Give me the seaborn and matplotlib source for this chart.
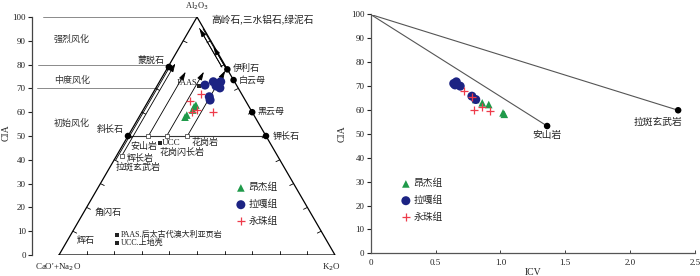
import matplotlib
matplotlib.use("Agg")
import matplotlib.pyplot as plt
import seaborn as sns
import numpy as np

sns.set_style("ticks")
plt.rcParams["font.family"] = ["Liberation Serif", "Noto Sans CJK SC"]
plt.rcParams["axes.unicode_minus"] = False

# ---- A-CN-K diagram: CIA (=Al2O3 share, %) and K2O share (%) per sample
angjie_cia = [63.0, 62.3, 60.9, 58.8, 57.9]
angjie_k = [18.1, 17.8, 18.0, 16.9, 16.7]
laga_cia = [71.4, 72.8, 72.8, 71.0, 70.2, 66.5, 65.1]
laga_k = [17.2, 19.5, 22.2, 21.4, 23.2, 21.2, 22.2]
yongzhu_cia = [64.9, 67.8, 60.9, 60.2, 60.2]
yongzhu_k = [15.0, 17.5, 19.5, 18.0, 25.6]

minerals = ["斜长石", "钾长石", "蒙脱石", "伊利石", "白云母", "黑云母"]
mineral_cia = [50, 50, 79, 78, 73.5, 60]
mineral_k = [0, 50, 0.3, 22, 26.5, 40]

rocks = ["安山岩", "花岗闪长岩", "花岗岩", "辉长岩"]
rock_cia = [50, 50, 50, 41.6]
rock_k = [7.4, 14.0, 21.5, 1.9]
ref_names = ["PAAS", "UCC"]
ref_cia_t = [71.0, 47.0]
ref_k_t = [15.3, 13.1]

# weathering trends (constant K2O) and K-loss trends (constant CaO+Na2O)
trend_k = [0.6, 1.9, 7.4, 14.0, 21.5]
trend_start = [40.0, 41.6, 50, 50, 50]
trend_end = [79.0, 80.5, 77.0, 77.0, 77.5]
trend_arrow = [False, True, True, True, True]
kloss_cn = [0.3, 1.5]
kloss_start = [78.0, 79.0]
kloss_end = [95.0, 95.2]
kloss_tip = [87.5, 95.2]

guide_levels = [100, 80, 70]
guide_start = [-0.058, -0.076, -0.08]
zone_labels = ["强烈风化", "中度风化", "初始风化"]
zone_cia = [90.5, 73.5, 55.5]

# ---- ICV-CIA diagram
angjie_icv = [0.81, 0.86, 0.91, 1.02, 1.03]
angjie_cia2 = [64.4, 63.0, 62.3, 58.8, 58.2]
laga_icv = [0.64, 0.65, 0.66, 0.69, 0.78, 0.81]
laga_cia2 = [71.1, 70.5, 71.8, 70.0, 65.8, 64.4]
yongzhu_icv = [0.72, 0.78, 0.80, 0.86, 0.92]
yongzhu_cia2 = [68.0, 65.5, 60.2, 61.3, 59.7]
ref_rocks = ["安山岩", "拉斑玄武岩"]
ref_icv = [1.36, 2.37]
ref_cia = [53.3, 59.9]

green = "#1f9a4a"
navy = "#1c2383"
red = "#ee3b4a"
groups = ["昂杰组", "拉嘎组", "永珠组"]


def tern(cia, k):
    cia = np.asarray(cia, float)
    k = np.asarray(k, float)
    return k / 100 + cia / 200, cia


def tx(px):
    return (px - 59) / 276


def ty(py):
    return (255 - py) / 2.38


fig = plt.figure(figsize=(7, 2.76), dpi=100)
ax1 = fig.add_axes([32 / 700, 21 / 276, 313 / 700, 238 / 276])
ax2 = fig.add_axes([370.7 / 700, 22.7 / 276, 324.3 / 700, 238.8 / 276])

# ---------------- left: A-CN-K ternary ----------------
ax1.set_xlim(tx(32), tx(345))
ax1.set_ylim(0, 100)
for s in ["top", "right", "bottom"]:
    ax1.spines[s].set_visible(False)
ax1.spines["left"].set_color("#444444")
ax1.spines["left"].set_linewidth(0.9)
ax1.set_yticks(range(0, 101, 10))
ax1.set_xticks([])
ax1.tick_params(axis="y", direction="out", length=3, width=0.8, pad=1.5,
                labelsize=6.5, colors="#222222")
fig.text(6 / 700, 1 - 133 / 276, "CIA", rotation=90, fontsize=7, ha="center", va="center")

lw_t = 0.9
ax1.plot([0, 0.5, 1, 0], [0, 100, 0, 0], color="black", lw=lw_t, zorder=2)
ax1.plot(*tern([50, 50], [0, 50]), color="#333333", lw=0.8, zorder=2)
for lvl, x0 in zip(guide_levels, guide_start):
    ax1.plot([x0, lvl / 200], [lvl, lvl], color="#777777", lw=0.6, zorder=1)
for lab, c in zip(zone_labels, zone_cia):
    ax1.text(tx(72), c, lab, fontsize=6.5, ha="center", va="center", color="#333333")

# edge ticks
for f in np.arange(0.1, 1.0, 0.1):
    ax1.plot([f, f], [0, 1.6], color="black", lw=0.6)
    ax1.plot([f / 2, f / 2 + 0.014], [f * 100, f * 100 - 0.8], color="black", lw=0.6)
    ax1.plot([1 - f / 2, 1 - f / 2 - 0.014], [f * 100, f * 100 - 0.8], color="black", lw=0.6)

arrow_kw = dict(arrowstyle="-|>,head_length=0.5,head_width=0.15", color="black",
                lw=0.6, shrinkA=0, shrinkB=0)
for k, a0, a1, arr in zip(trend_k, trend_start, trend_end, trend_arrow):
    xs, ys = tern([a0, a1], [k, k])
    if arr:
        ax1.annotate("", xy=(xs[1], ys[1]), xytext=(xs[0], ys[0]), arrowprops=arrow_kw)
    else:
        ax1.plot(xs, ys, color="black", lw=0.6)
for cn, a0, a1, tip in zip(kloss_cn, kloss_start, kloss_end, kloss_tip):
    xs, ys = tern([a0, a1], [100 - a0 - cn, 100 - a1 - cn])
    ax1.plot(xs, ys, color="black", lw=0.6)
    tx0, ty0 = tern([a0, tip], [100 - a0 - cn, 100 - tip - cn])
    ax1.annotate("", xy=(tx0[1], ty0[1]), xytext=(tx0[0], ty0[0]), arrowprops=arrow_kw)

mx, my = tern(mineral_cia, mineral_k)
sns.scatterplot(x=mx, y=my, color="black", s=22, edgecolor="none", ax=ax1, zorder=5)
offs = {"斜长石": (-3, 5, "right"), "钾长石": (5, 0, "left"), "蒙脱石": (-3, 5, "right"),
        "伊利石": (4, 1, "left"), "白云母": (4, 0, "left"), "黑云母": (4, 0, "left")}
for name, x, y in zip(minerals, mx, my):
    dx, dy, ha = offs[name]
    ax1.annotate(name, (x, y), xytext=(dx, dy), textcoords="offset points",
                 fontsize=6.5, ha=ha, va="center", color="#222222")

rx, ry = tern(rock_cia, rock_k)
sns.scatterplot(x=rx, y=ry, marker="s", s=10, facecolor="white", edgecolor="#333333",
                linewidth=0.5, ax=ax1, zorder=4)
fx, fy = tern(ref_cia_t, ref_k_t)
sns.scatterplot(x=fx, y=fy, marker="s", s=7, color="#222222", edgecolor="none",
                ax=ax1, zorder=4)

txt = dict(fontsize=6.5, va="center", color="#222222")
ax1.text(tx(130), ty(147), "安山岩", ha="left", **txt)
ax1.text(tx(162), ty(143), "UCC", ha="left", **txt)
ax1.text(tx(192), ty(142), "花岗岩", ha="left", **txt)
ax1.text(tx(160), ty(152.5), "花岗闪长岩", ha="left", **txt)
ax1.text(tx(127), ty(158), "辉长岩", ha="left", **txt)
ax1.text(tx(116), ty(167), "拉斑玄武岩", ha="left", **txt)
ax1.text(tx(197.5), ty(83), "PAAS", ha="right", fontsize=6, va="center", color="#222222")
ax1.text(tx(108), ty(213), "角闪石", ha="center", **txt)
ax1.text(tx(86), ty(240), "辉石", ha="center", **txt)
ax1.text(tx(211), ty(20.5), "高岭石,三水铝石,绿泥石", ha="left", fontsize=7,
         va="center", color="#222222", clip_on=False)
ax1.text(0.5, ty(6), "Al$_2$O$_3$", ha="center", fontsize=6, va="center", clip_on=False)
ax1.text(tx(58), ty(267), "CaO'+Na$_2$O", ha="center", fontsize=6.5, va="center", clip_on=False)
ax1.text(tx(331), ty(267), "K$_2$O", ha="center", fontsize=6.5, va="center", clip_on=False)
sns.scatterplot(x=[tx(117), tx(117)], y=[ty(235), ty(243)], marker="s", s=5,
                color="#222222", edgecolor="none", ax=ax1)
ax1.text(tx(121), ty(235), "PAAS.后太古代澳大利亚页岩", ha="left", fontsize=5.8,
         va="center", color="#222222")
ax1.text(tx(121), ty(243), "UCC.上地壳", ha="left", fontsize=5.8, va="center",
         color="#222222")

gx, gy = tern(angjie_cia, angjie_k)
bx, by = tern(laga_cia, laga_k)
px_, py_ = tern(yongzhu_cia, yongzhu_k)
sns.scatterplot(x=gx, y=gy, marker="^", s=30, color=green, edgecolor="none",
                ax=ax1, label=groups[0], zorder=6)
sns.scatterplot(x=bx, y=by, marker="o", s=42, color=navy, edgecolor="none",
                ax=ax1, label=groups[1], zorder=6)
sns.scatterplot(x=px_, y=py_, marker="+", s=40, color=red, linewidth=0.9,
                ax=ax1, label=groups[2], zorder=7)
ax1.legend(loc="upper left", bbox_to_anchor=((236 - 32) / 313, (255 - 183) / 238),
           frameon=False, fontsize=7, borderpad=0, borderaxespad=0,
           labelspacing=0.75, handletextpad=0.3, handlelength=1.0)

# ---------------- right: ICV-CIA ----------------
ax2.set_xlim(0, 2.5)
ax2.set_ylim(0, 100)
for s in ["top", "right"]:
    ax2.spines[s].set_visible(False)
for s in ["left", "bottom"]:
    ax2.spines[s].set_color("#555555")
    ax2.spines[s].set_linewidth(0.9)
ax2.set_xticks([0, 0.5, 1.0, 1.5, 2.0, 2.5])
ax2.set_xticklabels(["0", "0.5", "1.0", "1.5", "2.0", "2.5"])
ax2.set_yticks(range(0, 101, 10))
ax2.tick_params(axis="y", direction="out", length=3, width=0.8, pad=1.5,
                labelsize=6.5, colors="#222222")
ax2.tick_params(axis="x", direction="in", length=2, width=0.6, pad=4,
                labelsize=6.5, colors="#222222")
ax2.set_ylabel("CIA", fontsize=7, labelpad=3)
ax2.set_xlabel("ICV", fontsize=7, labelpad=1)

for icv, cia in zip(ref_icv, ref_cia):
    sns.lineplot(x=[0, icv], y=[100, cia], color="#555555", lw=0.8, ax=ax2)
sns.scatterplot(x=ref_icv, y=ref_cia, color="black", s=22, edgecolor="none", ax=ax2, zorder=5)
ax2.annotate(ref_rocks[0], (ref_icv[0], ref_cia[0]), xytext=(0, -7),
             textcoords="offset points", ha="center", va="center", fontsize=7, color="#222222")
ax2.annotate(ref_rocks[1], (ref_icv[1], ref_cia[1]), xytext=(-14.5, -9),
             textcoords="offset points", ha="center", va="center", fontsize=7, color="#222222")

sns.scatterplot(x=angjie_icv, y=angjie_cia2, marker="^", s=30, color=green, edgecolor="none",
                ax=ax2, label=groups[0], zorder=6)
sns.scatterplot(x=laga_icv, y=laga_cia2, marker="o", s=42, color=navy, edgecolor="none",
                ax=ax2, label=groups[1], zorder=6)
sns.scatterplot(x=yongzhu_icv, y=yongzhu_cia2, marker="+", s=40, color=red, linewidth=0.9,
                ax=ax2, label=groups[2], zorder=7)
ax2.legend(loc="upper left", bbox_to_anchor=((401 - 370.7) / 324.3, (253.3 - 179) / 238.8),
           frameon=False, fontsize=7, borderpad=0, borderaxespad=0,
           labelspacing=0.75, handletextpad=0.3, handlelength=1.0)

fig.savefig("out.png", dpi=100)
